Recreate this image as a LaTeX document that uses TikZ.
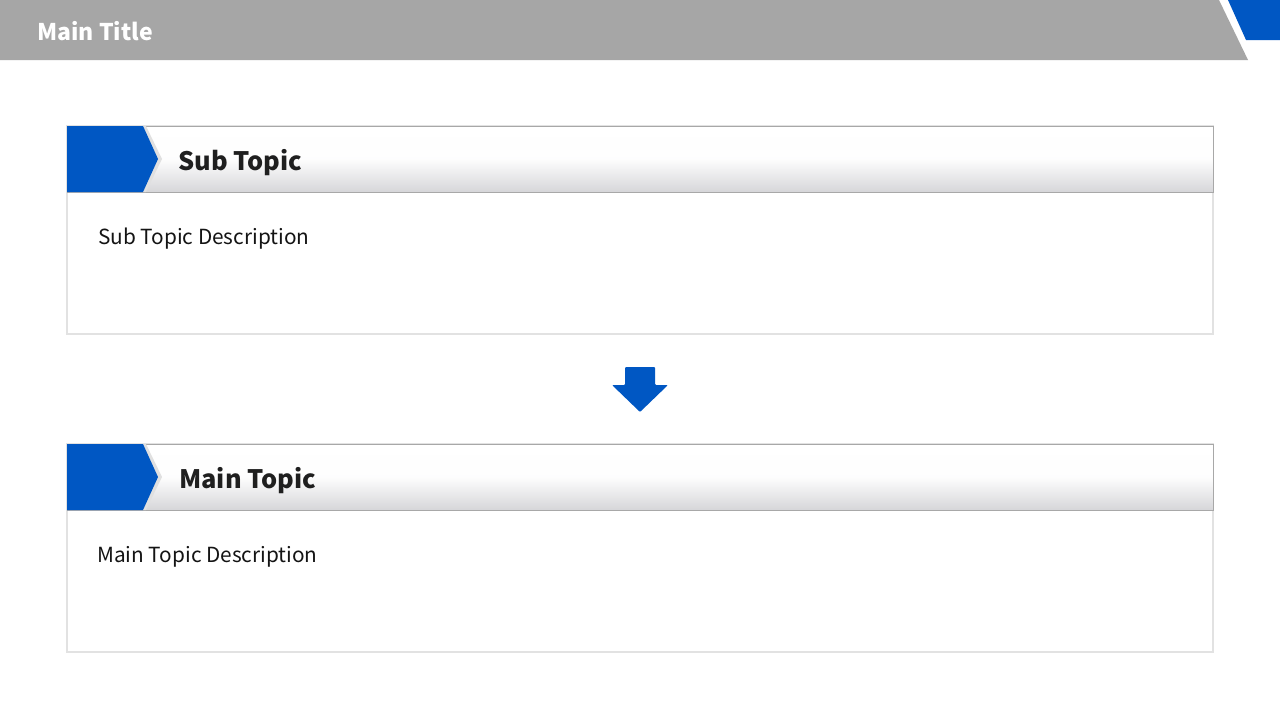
\documentclass[tikz,border=0pt]{standalone}
\usepackage{fontspec}
\setmainfont{Noto Sans CJK JP}
\definecolor{tgray}{HTML}{A6A6A6}
\definecolor{tblue}{HTML}{0057C3}
\definecolor{hdrbot}{HTML}{D6D6D9}
\definecolor{bord}{HTML}{A8A8A8}
\definecolor{bodybord}{HTML}{E2E2E2}
\tikzset{
  hdrtxt/.style={anchor=west, inner sep=0pt, font=\fontsize{25.4}{28}\selectfont\bfseries, text=black!88},
  desctxt/.style={anchor=west, inner sep=0pt, font=\fontsize{20.8}{24}\selectfont, text=black!92},
  bodybox/.style={draw=bodybord, line width=1.2pt, fill=white},
  hdrbox/.style={draw=bord, line width=0.8pt, top color=white, bottom color=hdrbot, middle color=white!96!hdrbot},
}
\begin{document}
\begin{tikzpicture}[x=1pt,y=-1pt]
\useasboundingbox (0,0) rectangle (1280,720);
\fill[white] (0,0) rectangle (1280,720);
% title bar
\fill[tgray] (0,0) -- (1219,0) -- (1248,60) -- (0,60) -- cycle;
\fill[tblue] (1228,0) -- (1280,0) -- (1280,40) -- (1246,40) -- cycle;
\node[anchor=west, inner sep=0pt, text=white, font=\fontsize{23}{26}\selectfont\bfseries] (title) at (37,31.5) {Main Title};
% panels
\foreach \y/\name/\head/\desc/\hx/\dx in {126/p1/Sub Topic/Sub Topic Description/178/98, 444/p2/Main Topic/Main Topic Description/179/97}{
  \draw[bodybox] (67,\y) rectangle (1213,\y+208);
  \draw[hdrbox] (67,\y) rectangle (1213,\y+66);
  % chevron shadow
  \fill[black!12] (70,\y) -- (146,\y) -- (162,\y+33) -- (146,\y+66) -- (70,\y+66) -- cycle;
  \fill[tblue] (67,\y) -- (143,\y) -- (158,\y+33) -- (143,\y+66) -- (67,\y+66) -- cycle;
  \node[hdrtxt] (\name h) at (\hx,\y+37) {\head};
  \node[desctxt] (\name d) at (\dx,\y+113) {\desc};
}
% arrow
\fill[tblue, rounded corners=1pt] (625,367) -- (655,367) -- (655,385) -- (668,385) -- (640,412) -- (612,385) -- (625,385) -- cycle;
\end{tikzpicture}
\end{document}
